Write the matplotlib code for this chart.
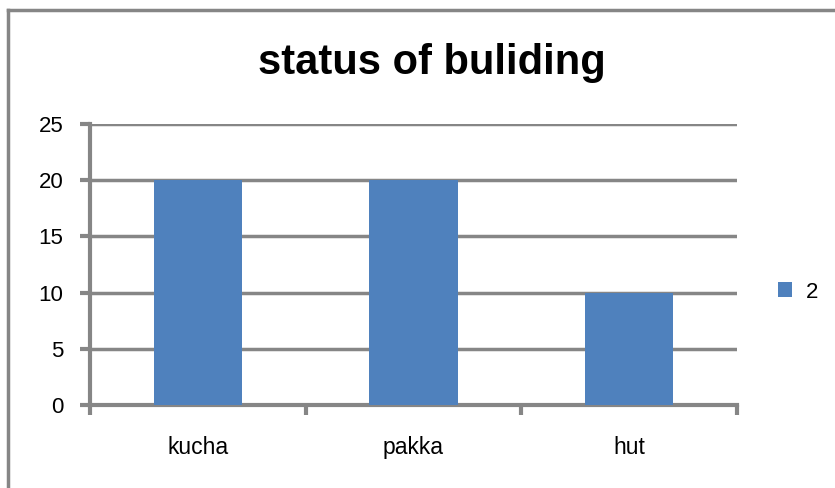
import matplotlib
matplotlib.use('Agg')
import matplotlib.pyplot as plt
from matplotlib.lines import Line2D
import numpy as np

# ------------------
categories = ['kucha', 'pakka', 'hut']
values = [20, 20, 10]
series_name = '2'
y_ticks = [0, 5, 10, 15, 20, 25]
title = 'status of buliding'
# ------------------

W, H = 835, 488
bar_color = '#4F81BD'
grid_color = '#868686'

plt.rcParams['font.family'] = ['Liberation Sans', 'DejaVu Sans']

fig = plt.figure(figsize=(W / 100, H / 100), dpi=100)
ax = fig.add_axes([90 / W, 1 - 405 / H, (737 - 90) / W, (405 - 124) / H])

x = np.arange(len(categories))
ax.bar(x, values, width=0.41, color=bar_color, zorder=3, label=series_name)

ax.set_xlim(-0.5, len(categories) - 0.5)
ax.set_ylim(0, 25)
ax.set_yticks(y_ticks)
ax.set_yticklabels([str(v) for v in y_ticks], fontsize=16)

# category labels centred, ticks at category boundaries
ax.set_xticks(x)
ax.set_xticklabels(categories, fontsize=16.5)
ax.tick_params(axis='x', which='major', length=0, pad=22)
ax.set_xticks(np.arange(len(categories) + 1) - 0.5, minor=True)
ax.tick_params(axis='x', which='minor', length=7, width=3, color=grid_color, direction='out')
ax.tick_params(axis='y', length=7, width=3, color=grid_color, direction='out', pad=12)

for v in y_ticks:
  ax.axhline(v, color=grid_color, lw=2.5, zorder=1)

for s in ['top', 'right']:
  ax.spines[s].set_visible(False)
ax.spines['left'].set_color(grid_color)
ax.spines['left'].set_linewidth(3)
ax.spines['bottom'].set_color(grid_color)
ax.spines['bottom'].set_linewidth(3)

fig.text(432 / W, 1 - 63 / H, title, ha='center', va='center',
         fontsize=30, fontweight='bold')

leg = fig.legend(loc='center left', bbox_to_anchor=(758 / W, 1 - 292 / H),
                 frameon=False, fontsize=16, handlelength=0.65, handleheight=0.65,
                 handletextpad=0.6)

# outer chart border
fig.add_artist(Line2D([8 / W, 1.0], [1 - 10 / H, 1 - 10 / H], color=grid_color, lw=2.5))
fig.add_artist(Line2D([8 / W, 8 / W], [0.0, 1 - 10 / H], color=grid_color, lw=2.5))

fig.savefig('out.png', dpi=100)
